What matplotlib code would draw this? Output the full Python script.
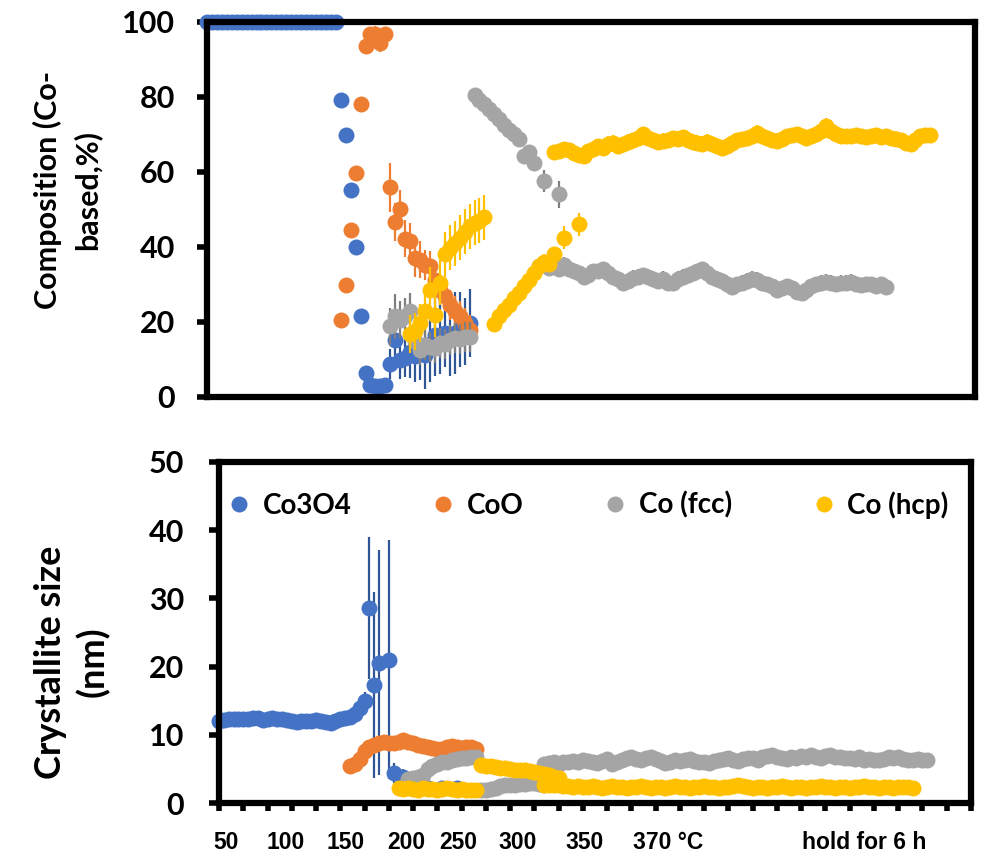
import matplotlib.pyplot as plt
import numpy as np

plt.rcParams['font.family'] = ['Lato', 'DejaVu Sans']
plt.rcParams['font.weight'] = 'bold'

# x axis = scan number (0 .. 155), each series split into segments
# segment = (first scan, values, error bars)

# ---- composition (Co-based, %) ----
co3o4_comp = [100, 100, 100, 100, 100, 100, 100, 100, 100, 100, 100, 100, 100, 100,
              100, 100, 100, 100, 100, 100, 100, 100, 100, 100, 100, 100, 100,
              79.1, 69.9, 55.3, 40.1, 21.7, 6.4, 3.2, 2.8, 2.8, 3.2, 8.8, 15.3, 9.9,
              10.4, 12.0, 11.0, 13.4, 11.2, 14.0, 16.6, 16.0, 17.0, 15.5, 17.0, 18.0,
              17.5, 19.7]
co3o4_comp_err = [0] * 33 + [0.5, 0.5, 0.5, 0.5, 4, 5, 5, 5, 7, 7, 9, 9, 10, 11, 10,
                             9, 10, 11, 10, 9, 9]

coo_comp = [20.6, 29.8, 44.4, 59.8, 78.0, 93.5, 96.8, 96.8, 94.4, 96.8, 55.9, 46.6,
            50.2, 42.2, 41.5, 37.1, 36.6, 35.3, 34.8, 31.3, 28.6, 26.8, 24.6, 22.8,
            21.5, 19.7, 17.9]
coo_comp_err = [0, 0, 0, 0, 0, 0, 0, 2, 2.5, 0, 6.5, 5, 5, 5, 5, 5, 5, 4, 4, 4, 4, 4,
                4, 4, 4, 4, 4]

fcc_comp_a = [18.8, 21.5, 20.6, 21.5, 22.8, 14.8, 12.5, 13.9, 13.4, 13.0, 14.3, 14.0,
              15.2, 15.7, 15.5, 16.1, 16.1]
fcc_comp_a_err = [5, 6, 5, 5, 5, 4, 4, 4, 4, 4, 4, 4, 4, 4, 4, 4, 4]
fcc_comp_b_scan = [54, 55, 56, 57, 58, 59, 60, 61, 62, 63, 64, 65, 66, 68, 71]
fcc_comp_b = [80.5, 79.2, 78.0, 76.7, 75.4, 74.0, 72.6, 71.3, 70.0, 68.7, 64.3, 65.2,
              62.3, 57.6, 54.0]
fcc_comp_b_err = [2, 2, 2, 2, 2, 2, 2, 2, 2, 2, 2, 2, 2, 3, 3.5]
fcc_comp_c = [34.8, 35.5, 34.5, 35.3, 34.0, 35.3, 34.0, 33.5, 33.0, 32.1, 32.5, 33.5,
              33.5, 34.0, 33.0, 32.0, 31.5, 30.5, 31.0, 31.8, 32.0, 32.5, 32.1, 31.5,
              31.0, 31.5, 30.5, 30.5, 31.5, 32.0, 32.5, 33.0, 33.5, 34.0, 33.0, 32.0,
              31.5, 31.0, 30.0, 29.4, 30.0, 30.5, 31.0, 31.5, 31.3, 30.5, 30.0, 29.5,
              28.6, 29.0, 29.5, 29.0, 28.0, 27.8, 28.5, 29.5, 30.0, 30.5, 30.7, 30.5,
              30.0, 30.5, 30.5, 30.7, 30.0, 29.8, 30.0, 30.0, 29.5, 30.0, 29.4]

hcp_comp_a = [16.8, 17.5, 19.7, 22.8, 28.6, 21.9, 30.4, 38.0, 39.8, 41.0, 42.5, 44.0,
              45.5, 46.5, 47.0, 47.9]
hcp_comp_a_err = [5, 5, 5, 5, 6, 6, 6, 6, 6, 6, 6, 6, 6, 6, 6, 6]
hcp_comp_b_scan = [58, 59, 60, 61, 62, 63, 64, 65, 66, 67, 68, 69, 70, 72, 75]
hcp_comp_b = [19.5, 21.5, 23.3, 24.6, 26.4, 27.7, 29.5, 31.3, 33.0, 35.0, 36.0, 35.5,
              38.0, 42.5, 46.0]
hcp_comp_b_err = [1.5, 1.5, 1.5, 1.5, 1.5, 1.5, 1.5, 1.5, 2, 2, 2, 2, 2, 3, 3]
hcp_comp_c = [65.2, 65.5, 66.0, 65.8, 65.0, 64.5, 64.3, 65.5, 66.0, 66.9, 66.5, 67.5,
              67.8, 67.0, 67.4, 68.0, 68.5, 69.0, 70.1, 69.0, 68.5, 68.0, 68.3, 68.5,
              69.0, 68.8, 69.2, 68.5, 68.0, 67.8, 67.5, 68.0, 67.5, 67.0, 66.5, 67.0,
              67.8, 68.5, 68.7, 69.0, 69.5, 70.5, 69.5, 69.0, 68.5, 68.3, 68.8, 69.5,
              69.8, 70.1, 69.5, 69.0, 69.5, 70.0, 71.0, 72.3, 71.0, 70.0, 69.6, 69.5,
              69.5, 69.8, 69.5, 69.2, 69.5, 69.8, 69.2, 69.5, 69.0, 68.8, 68.5, 67.8,
              67.4, 68.5, 69.5, 69.8, 69.8]

# ---- crystallite size (nm) ----
co3o4_size_scan = list(range(0, 31)) + [31, 32, 33, 35, 36, 38, 40, 43, 46, 49]
co3o4_size = [12.0, 12.2, 12.3, 12.3, 12.4, 12.3, 12.4, 12.5, 12.5, 12.2, 12.4, 12.5,
              12.3, 12.4, 12.2, 12.0, 11.9, 12.0, 12.1, 12.0, 12.2, 12.0, 11.9, 11.7,
              12.0, 12.3, 12.5, 12.6, 13.0, 14.0, 14.9,
              28.6, 17.3, 20.6, 21.0, 4.4, 3.8, 2.6, 2.3, 2.2, 2.2]
co3o4_size_err = [0.3] * 28 + [0.5, 0.8, 1.4, 10.4, 13.6, 16.4, 17.5, 1.5, 1.2, 0.6,
                               0.5, 0.5, 0.5]

coo_size = [5.5, 5.8, 6.5, 7.6, 8.2, 8.5, 8.8, 9.0, 8.8, 8.8, 8.9, 9.2, 9.0, 8.8, 8.5,
            8.4, 8.3, 8.1, 8.0, 8.0, 8.2, 8.4, 8.2, 8.1, 8.3, 8.2, 7.9]

fcc_size_a = [3.5, 3.7, 3.8, 4.2, 5.0, 5.4, 5.7, 6.0, 6.1, 6.3, 6.5, 6.6, 6.6, 6.7, 6.7]
fcc_size_b = [1.9, 2.0, 2.1, 2.3, 2.5, 2.6, 2.7, 2.7, 2.8, 2.8, 2.9, 2.9, 2.8, 2.7]
fcc_size_c = [5.7, 5.9, 6.0, 5.8, 6.1, 6.0, 6.2, 6.1, 6.3, 6.2, 6.0, 5.9, 6.2, 6.5,
              5.7, 6.0, 6.3, 6.6, 6.8, 6.5, 6.3, 6.6, 6.8, 6.5, 6.2, 5.9, 6.1, 6.3,
              6.2, 6.3, 6.5, 6.2, 6.0, 6.1, 5.9, 6.2, 6.4, 6.5, 6.6, 6.4, 6.2, 6.5,
              6.6, 6.6, 6.4, 6.7, 6.9, 7.1, 6.8, 6.6, 6.5, 6.8, 6.6, 6.9, 6.8, 7.1,
              6.8, 6.6, 6.9, 7.1, 6.8, 6.7, 6.6, 6.6, 6.5, 6.7, 6.4, 6.5, 6.3, 6.3,
              6.5, 6.7, 6.6, 6.8, 6.5, 6.4, 6.3, 6.5, 6.4, 6.3]

hcp_size_a = [2.2, 2.1, 2.2, 2.1, 2.0, 2.2, 2.1, 2.1, 2.0, 2.1, 2.2, 2.1, 2.0, 2.1,
              2.0, 2.0, 1.95]
hcp_size_b = [5.6, 5.5, 5.4, 5.3, 5.2, 5.1, 5.0, 4.9, 4.9, 4.8, 4.7, 4.6, 4.5, 4.3,
              4.1, 3.9, 3.7]
hcp_size_c = [2.7, 2.7, 2.6, 2.6, 2.5, 2.5, 2.4, 2.5, 2.4, 2.4, 2.5, 2.4, 2.3, 2.4,
              2.5, 2.4, 2.4, 2.3, 2.4, 2.4, 2.5, 2.4, 2.3, 2.4, 2.4, 2.3, 2.4, 2.5,
              2.4, 2.4, 2.3, 2.4, 2.4, 2.5, 2.4, 2.4, 2.3, 2.4, 2.4, 2.5, 2.6, 2.5,
              2.4, 2.3, 2.4, 2.4, 2.3, 2.4, 2.4, 2.5, 2.4, 2.3, 2.4, 2.4, 2.3, 2.4,
              2.4, 2.5, 2.4, 2.4, 2.3, 2.4, 2.4, 2.3, 2.4, 2.4, 2.5, 2.4, 2.4, 2.3,
              2.4, 2.4, 2.3, 2.4, 2.4, 2.4, 2.3]

series_names = ['Co3O4', 'CoO', 'Co (fcc)', 'Co (hcp)']
temp_labels = ['50', '100', '150', '200', '250', '300', '350', '370 °C', 'hold for 6 h']
temp_scans = [1.4, 13.8, 26.0, 38.6, 49.3, 61.6, 75.4, 92.6, 133.0]

colors = ['#4472C4', '#ED7D31', '#A5A5A5', '#FFC000']
err_colors = ['#2F5597', '#ED7D31', '#7F7F7F', '#FFC000']


def scans(start, vals):
    return np.arange(start, start + len(vals))


comp_segments = [
    [(scans(0, co3o4_comp), co3o4_comp, co3o4_comp_err)],
    [(scans(27, coo_comp), coo_comp, coo_comp_err)],
    [(scans(37, fcc_comp_a), fcc_comp_a, fcc_comp_a_err),
     (fcc_comp_b_scan, fcc_comp_b, fcc_comp_b_err),
     (scans(67, fcc_comp_c), fcc_comp_c, [2] * len(fcc_comp_c))],
    [(scans(41, hcp_comp_a), hcp_comp_a, hcp_comp_a_err),
     (hcp_comp_b_scan, hcp_comp_b, hcp_comp_b_err),
     (scans(70, hcp_comp_c), hcp_comp_c, [2] * len(hcp_comp_c))],
]
size_segments = [
    [(co3o4_size_scan, co3o4_size, co3o4_size_err)],
    [(scans(27, coo_size), coo_size, None)],
    [(scans(39, fcc_size_a), fcc_size_a, None),
     (scans(54, fcc_size_b), fcc_size_b, None),
     (scans(67, fcc_size_c), fcc_size_c, None)],
    [(scans(37, hcp_size_a), hcp_size_a, None),
     (scans(54, hcp_size_b), hcp_size_b, None),
     (scans(67, hcp_size_c), hcp_size_c, None)],
]

fig = plt.figure(figsize=(9.86, 8.58), dpi=100)
ax1 = fig.add_axes([0.2099, 0.5373, 0.7789, 0.4371])
ax2 = fig.add_axes([0.2221, 0.0638, 0.7627, 0.3981])


def draw(ax, segments):
    handles = []
    for k, segs in enumerate(segments):
        for x, y, e in segs:
            cont = ax.errorbar(x, y, yerr=e, fmt='o', ms=11.5, color=colors[k], mew=0,
                               ecolor=err_colors[k], elinewidth=1.6, capsize=5,
                               capthick=1.6, clip_on=False, zorder=3 + k)
            for art in cont.lines[1] + cont.lines[2]:
                art.set_clip_on(False)
        handles.append(cont.lines[0])
    return handles


draw(ax1, comp_segments)
handles = draw(ax2, size_segments)

for ax in (ax1, ax2):
    ax.set_xlim(0, 155)
    for sp in ax.spines.values():
        sp.set_linewidth(4.5)
        sp.set_zorder(10)
    ax.tick_params(axis='y', direction='out', length=7, width=4, labelsize=22)

ax1.set_ylim(0, 100)
ax1.set_yticks([0, 20, 40, 60, 80, 100])
ax1.set_xticks([])
ax1.tick_params(axis='y', pad=16)

ax2.set_ylim(0, 50)
ax2.set_yticks([0, 10, 20, 30, 40, 50])
ax2.set_xticks(np.arange(0, 156, 5))
ax2.tick_params(axis='x', which='major', direction='out', length=6, width=4,
                labelbottom=False)
ax2.set_xticks(temp_scans, labels=temp_labels, minor=True)
ax2.tick_params(axis='x', which='minor', length=0, pad=20, labelsize=16.5)
for t in ax2.get_xticklabels(minor=True):
    t.set_family(['Liberation Sans', 'DejaVu Sans'])
ax2.tick_params(axis='y', pad=18)

fig.text(67 / 986, 1 - 190 / 858, 'Composition (Co-\nbased,%)', rotation=90,
         ha='center', va='center', fontsize=22, linespacing=1.45,
         multialignment='center')
fig.text(72 / 986, 1 - 662 / 858, 'Crystallite size\n(nm)', rotation=90,
         ha='center', va='center', fontsize=26, linespacing=1.3,
         multialignment='center')

ax2.legend(handles, series_names, loc='center left', bbox_to_anchor=(0.012, 0.873),
           ncol=4, frameon=False, fontsize=20, handlelength=0.8, handletextpad=0.45,
           columnspacing=2.9, borderaxespad=0, borderpad=0, markerscale=1.0)

fig.savefig('out.png', dpi=100)
